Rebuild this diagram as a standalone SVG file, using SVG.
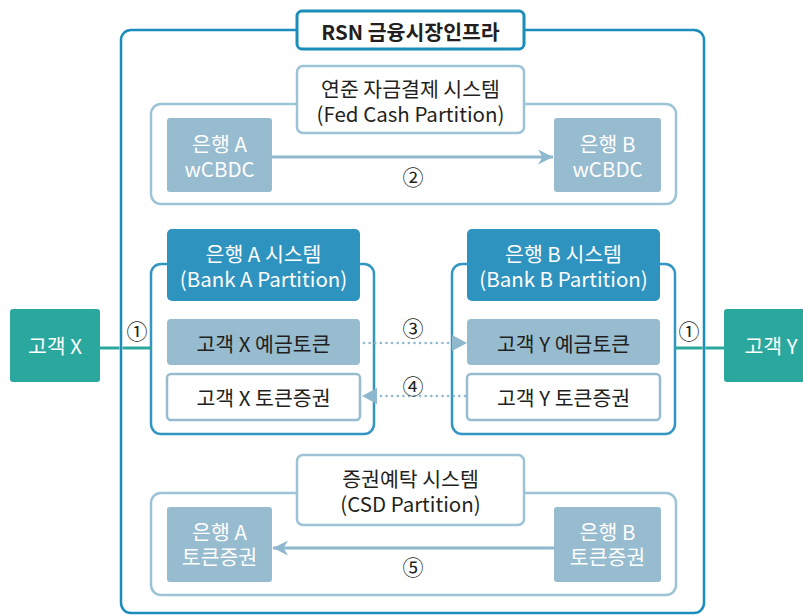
<svg xmlns="http://www.w3.org/2000/svg" width="803" height="615" viewBox="0 0 803 615">
<defs>
<style>
text,tspan{font-family:"Noto Sans CJK KR","Noto Sans",sans-serif;font-size:20.5px;text-anchor:middle;dominant-baseline:central}
.dk{fill:#231f20}
.wt{fill:#ffffff}
.frame{fill:none;stroke:#1a8dbb;stroke-width:2.5}
.lbl{fill:#ffffff;stroke:#9dc3d7;stroke-width:2.5}
.cont{fill:#ffffff;stroke:#9dc3d7;stroke-width:2.5}
.bcont{fill:#ffffff;stroke:#3396c2;stroke-width:2.5}
.lt{fill:#97bbcf}
.hd{fill:#2f93bf}
.cust{fill:#2aa89e}
.num{font-size:21px}
.dot{stroke:#8db8ce;stroke-width:2.5;stroke-dasharray:0.1 5.5;stroke-linecap:round;fill:none}
</style>
<marker id="ah" viewBox="0 0 10 10" refX="10" refY="5" markerWidth="5" markerHeight="5" markerUnits="strokeWidth" orient="auto"><path d="M0,0L10,5L0,10L3,5z" fill="#8db8ce"/></marker>
</defs>
<rect width="803" height="615" fill="#ffffff"/>
<g id="frame">
<rect class="frame" x="121" y="30" width="583" height="583" rx="10"/>
</g>
<g id="title">
<rect x="297" y="11" width="227" height="38" rx="5" fill="#ffffff" stroke="#1a8dbb" stroke-width="3"/>
<text x="410.5" y="30.5" class="dk" style="font-weight:700">RSN 금융시장인프라</text>
</g>
<g id="fed">
<rect class="cont" x="151" y="104" width="525" height="100" rx="10"/>
<rect class="lbl" x="297" y="66" width="227" height="67" rx="6"/>
<text class="dk"><tspan x="410.5" y="87.5">연준 자금결제 시스템</tspan><tspan x="410.5" y="113">(Fed Cash Partition)</tspan></text>
</g>
<g id="fedA">
<rect class="lt" x="167" y="118" width="105" height="74" rx="3"/>
<text class="wt"><tspan x="219.5" y="143">은행 A</tspan><tspan x="219.5" y="167.5">wCBDC</tspan></text>
</g>
<g id="fedB">
<rect class="lt" x="554" y="118" width="107" height="74" rx="3"/>
<text class="wt"><tspan x="607.5" y="143">은행 B</tspan><tspan x="607.5" y="167.5">wCBDC</tspan></text>
</g>
<g id="bankA">
<rect class="bcont" x="151" y="264" width="223" height="170" rx="10"/>
<rect class="hd" x="167" y="229" width="193" height="72" rx="5"/>
<text class="wt"><tspan x="263.5" y="253">은행 A 시스템</tspan><tspan x="263.5" y="278">(Bank A Partition)</tspan></text>
</g>
<g id="depX">
<rect class="lt" x="167" y="319" width="193" height="46" rx="4"/>
<text x="263.5" y="343" class="dk">고객 X 예금토큰</text>
</g>
<g id="tokX">
<rect x="167" y="374" width="193" height="46" rx="4" fill="#ffffff" stroke="#97bbcf" stroke-width="2.5"/>
<text x="263.5" y="397" class="dk">고객 X 토큰증권</text>
</g>
<g id="bankB">
<rect class="bcont" x="452" y="264" width="223" height="170" rx="10"/>
<rect class="hd" x="467" y="229" width="193" height="72" rx="5"/>
<text class="wt"><tspan x="563.5" y="253">은행 B 시스템</tspan><tspan x="563.5" y="278">(Bank B Partition)</tspan></text>
</g>
<g id="depY">
<rect class="lt" x="467" y="319" width="193" height="46" rx="4"/>
<text x="563.5" y="343" class="dk">고객 Y 예금토큰</text>
</g>
<g id="tokY">
<rect x="467" y="374" width="193" height="46" rx="4" fill="#ffffff" stroke="#97bbcf" stroke-width="2.5"/>
<text x="563.5" y="397" class="dk">고객 Y 토큰증권</text>
</g>
<g id="csd">
<rect class="cont" x="151" y="493" width="525" height="102" rx="10"/>
<rect class="lbl" x="297" y="455" width="227" height="70" rx="6"/>
<text class="dk"><tspan x="410.5" y="478">증권예탁 시스템</tspan><tspan x="410.5" y="503">(CSD Partition)</tspan></text>
</g>
<g id="csdA">
<rect class="lt" x="167" y="507" width="105" height="75" rx="3"/>
<text class="wt"><tspan x="219.5" y="531">은행 A</tspan><tspan x="219.5" y="556">토큰증권</tspan></text>
</g>
<g id="csdB">
<rect class="lt" x="554" y="507" width="107" height="75" rx="3"/>
<text class="wt"><tspan x="607.5" y="531">은행 B</tspan><tspan x="607.5" y="556">토큰증권</tspan></text>
</g>
<g id="custX">
<rect class="cust" x="10" y="309" width="90" height="73" rx="3"/>
<text x="55" y="345" class="wt">고객 X</text>
</g>
<g id="custY">
<rect class="cust" x="724" y="309" width="90" height="73" rx="3"/>
<text x="771" y="345" class="wt">고객 Y</text>
</g>
<g id="connectors">
<path d="M100,348H119.5M122.5,348H151" stroke="#2aa89e" stroke-width="3" fill="none"/>
<path d="M675,348H702.5M705.5,348H724" stroke="#2aa89e" stroke-width="3" fill="none"/>
<line x1="272" y1="157" x2="553" y2="157" stroke="#8db8ce" stroke-width="3" marker-end="url(#ah)"/>
<line x1="554" y1="548" x2="273" y2="548" stroke="#8db8ce" stroke-width="3" marker-end="url(#ah)"/>
<line class="dot" x1="364" y1="343" x2="452" y2="343"/>
<path d="M452,335L467,343L452,351z" fill="#8db8ce"/>
<line class="dot" x1="465" y1="396" x2="377" y2="396"/>
<path d="M377,388L362,396L377,404z" fill="#8db8ce"/>
<text x="137" y="330" class="dk num">①</text>
<text x="689" y="330" class="dk num">①</text>
<text x="413" y="176" class="dk num">②</text>
<text x="413" y="327" class="dk num">③</text>
<text x="413" y="385" class="dk num">④</text>
<text x="413" y="566" class="dk num">⑤</text>
</g>
</svg>
